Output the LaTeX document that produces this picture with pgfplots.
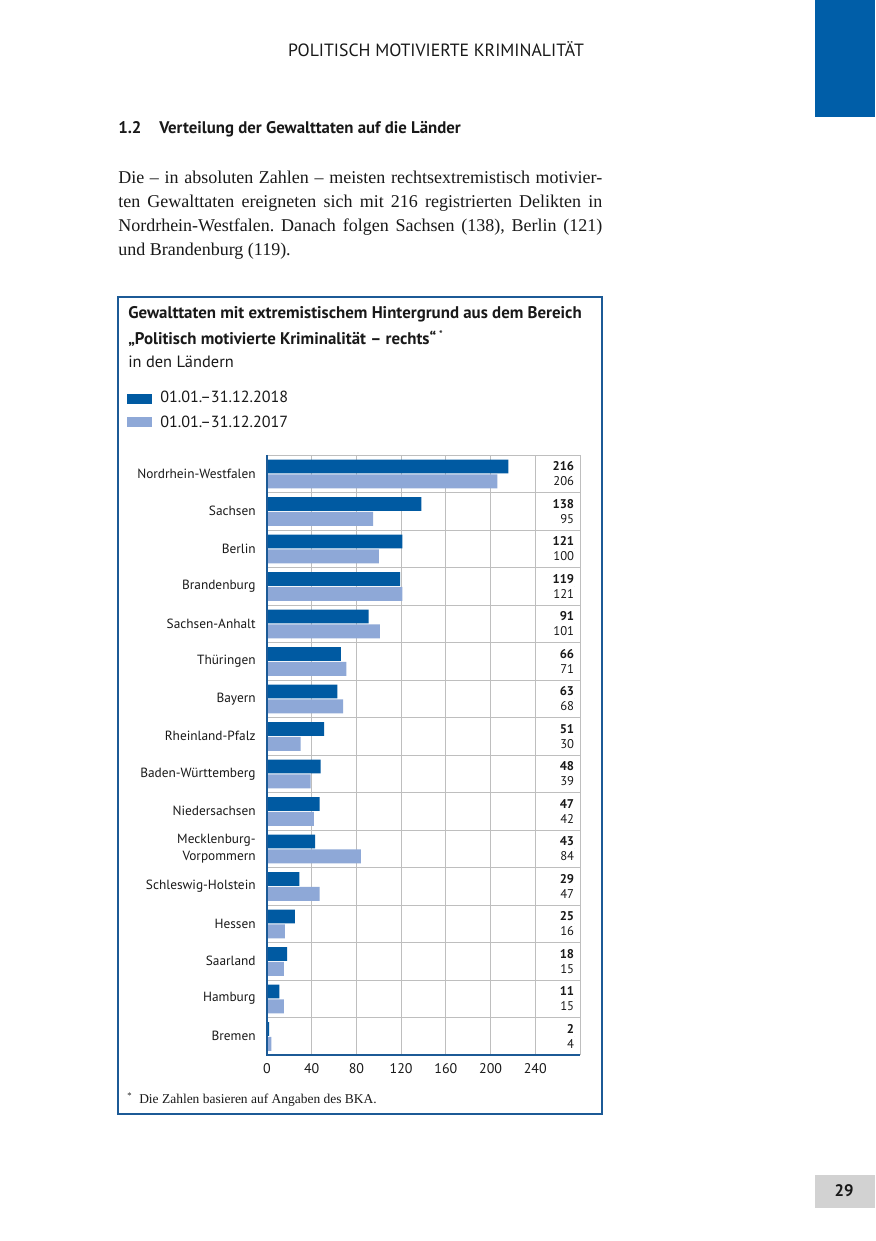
\documentclass[border=0pt]{standalone}
\usepackage{fontspec}
\setmainfont{Liberation Serif}
\setsansfont{PT Sans}
\usepackage{pgfplots}
\pgfplotsset{compat=1.18}
\usepackage{pgfplotstable}

\definecolor{darkbar}{RGB}{0,90,162}
\definecolor{lightbar}{RGB}{142,168,215}
\definecolor{boxblue}{RGB}{28,90,150}
\definecolor{pageblue}{RGB}{0,94,168}
\definecolor{gridgray}{RGB}{190,190,190}
\definecolor{pagegray}{RGB}{210,210,210}
\definecolor{txt}{RGB}{25,25,25}

\pgfplotstableread{
y  s18 s17 lx
16 216 206 275
15 138 95  275
14 121 100 275
13 119 121 275
12 91  101 275
11 66  71  275
10 63  68  275
9  51  30  275
8  48  39  275
7  47  42  275
6  43  84  275
5  29  47  275
4  25  16  275
3  18  15  275
2  11  15  275
1  2   4   275
}\data

\begin{document}
\frenchspacing
\begin{tikzpicture}[x=0.75pt,y=0.75pt]
\path[use as bounding box, fill=white] (0,0) rectangle (875,1241);
% page decorations
\fill[pageblue] (815,1124) rectangle (875,1241);
\fill[pagegray] (815,33) rectangle (875,66);
\node[font=\sffamily\bfseries\fontsize{12.5}{14}\selectfont, text=txt] at (844,50) {29};
% header
\node[anchor=base, inner sep=0, font=\sffamily\fontsize{13.3}{15}\selectfont, text=txt] at (436,1184) {POLITISCH MOTIVIERTE KRIMINALITÄT};
\node[anchor=base west, inner sep=0, font=\sffamily\bfseries\fontsize{12.6}{15}\selectfont, text=txt] at (118,1107) {1.2};
\node[anchor=base west, inner sep=0, font=\sffamily\bfseries\fontsize{12.6}{15}\selectfont, text=txt] at (159,1107) {Verteilung der Gewalttaten auf die Länder};
% paragraph
\begin{scope}[every node/.style={anchor=base west, inner sep=0, font=\rmfamily\fontsize{13.5}{18}\selectfont, text=txt}]
\node at (118,1057) {\makebox[363pt][s]{Die – in absoluten Zahlen – meisten rechtsextremistisch motivier-}};
\node at (118,1033) {\makebox[363pt][s]{ten Gewalttaten ereigneten sich mit 216 registrierten Delikten in}};
\node at (118,1009) {\makebox[363pt][s]{Nordrhein-Westfalen. Danach folgen Sachsen (138), Berlin (121)}};
\node at (118,985) {und Brandenburg (119).};
\end{scope}
% box
\draw[boxblue, line width=1.5pt] (118,127) rectangle (602,944);
% chart title
\begin{scope}[every node/.style={anchor=base west, inner sep=0, text=txt}]
\node[font=\sffamily\bfseries\fontsize{12.65}{14}\selectfont] at (128,922) {Gewalttaten mit extremistischem Hintergrund aus dem Bereich};
\node[font=\sffamily\bfseries\fontsize{12.65}{14}\selectfont] at (128,896) {„Politisch motivierte Kriminalität – rechts“\,\raisebox{0.45em}{\fontsize{7}{8}\selectfont *}};
\node[font=\sffamily\fontsize{12.3}{14}\selectfont] at (128,873) {in den Ländern};
\node[font=\sffamily\fontsize{12.1}{14}\selectfont] at (160,838) {01.01.–31.12.2018};
\node[font=\sffamily\fontsize{12.1}{14}\selectfont] at (160,813) {01.01.–31.12.2017};
\node[font=\rmfamily\fontsize{6.5}{8}\selectfont] at (127,142) {*};
\node[font=\rmfamily\fontsize{10.1}{12}\selectfont] at (139,137) {Die Zahlen basieren auf Angaben des BKA.};
\end{scope}
\fill[darkbar] (127,837) rectangle (152,847);
\fill[lightbar] (127,814) rectangle (152,824);

\begin{axis}[
  at={(200.25pt,139.5pt)}, anchor=south west,
  scale only axis, width=234.75pt, height=450pt,
  xmin=0, xmax=280, ymin=0.5, ymax=16.5,
  xtick={0,40,...,240},
  ytick={1,...,16},
  yticklabels={Bremen,Hamburg,Saarland,Hessen,Schleswig-Holstein,{Mecklenburg-\\Vorpommern},Niedersachsen,Baden-Württemberg,Rheinland-Pfalz,Bayern,Thüringen,Sachsen-Anhalt,Brandenburg,Berlin,Sachsen,Nordrhein-Westfalen},
  yticklabel style={align=right, font=\sffamily\fontsize{10}{12.5}\selectfont, text=txt, xshift=-5pt},
  xticklabel style={font=\sffamily\fontsize{10.5}{12}\selectfont, text=txt, yshift=-3pt},
  /pgf/number format/assume math mode=true,
  minor ytick={1.5,2.5,...,15.5},
  yminorgrids=true, xmajorgrids=true,
  major grid style={gridgray, line width=0.6pt},
  minor grid style={gridgray, line width=0.6pt},
  major tick length=0pt, minor tick length=0pt,
  axis line style={draw=none},
  clip=false,
]
\addplot[xbar, bar width=10.3pt, bar shift=5.4pt, fill=darkbar, draw=none] table[x=s18, y=y] \data;
\addplot[xbar, bar width=10.5pt, bar shift=-5.8pt, fill=lightbar, draw=none] table[x=s17, y=y] \data;
\addplot[only marks, mark=*, mark size=0pt, mark options={draw=none, fill=none},
  nodes near coords, point meta=explicit symbolic,
  nodes near coords style={anchor=east, inner sep=0pt, yshift=5.6pt, font=\sffamily\bfseries\fontsize{9.5}{11}\selectfont, text=txt}]
  table[x=lx, y=y, meta=s18] \data;
\addplot[only marks, mark=*, mark size=0pt, mark options={draw=none, fill=none},
  nodes near coords, point meta=explicit symbolic,
  nodes near coords style={anchor=east, inner sep=0pt, yshift=-5.8pt, font=\sffamily\fontsize{9.5}{11}\selectfont, text=txt}]
  table[x=lx, y=y, meta=s17] \data;
\draw[gridgray, line width=0.6pt] (rel axis cs:0,1) -- (rel axis cs:1,1) -- (rel axis cs:1,0);
\draw[boxblue, line width=1.5pt] (rel axis cs:0,1) -- (rel axis cs:0,0) -- (rel axis cs:1,0);
\end{axis}
\end{tikzpicture}
\end{document}
